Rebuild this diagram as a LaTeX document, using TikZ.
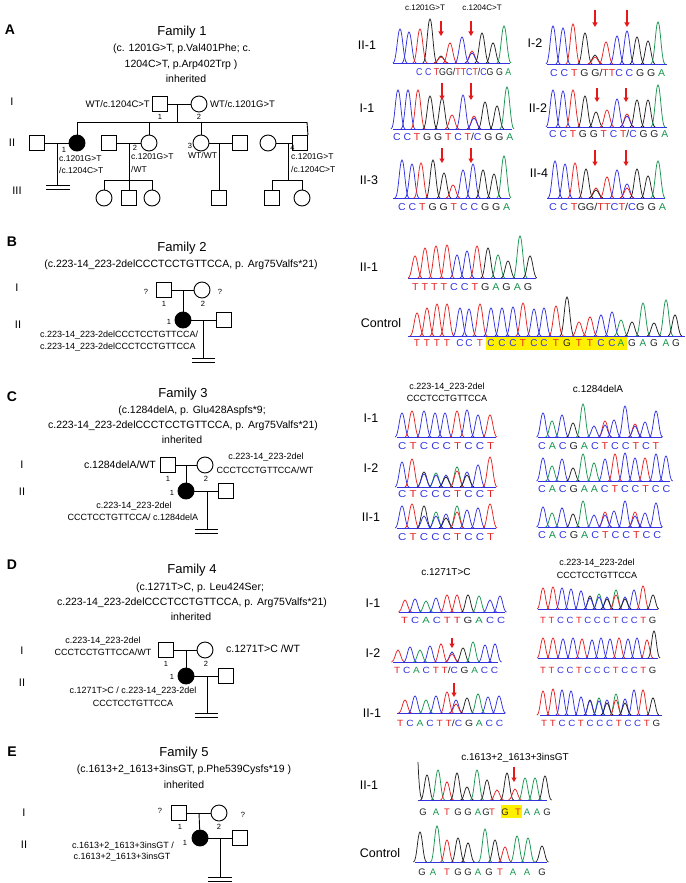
\documentclass[tikz,border=0pt]{standalone}
\usepackage{fontspec}
\setmainfont{Liberation Sans}
\usepackage{graphicx}
\usetikzlibrary{arrows.meta}
\definecolor{cB}{RGB}{50,50,225}
\definecolor{cR}{RGB}{230,35,35}
\definecolor{cG}{RGB}{25,150,80}
\definecolor{cK}{RGB}{35,35,35}
\definecolor{hl}{RGB}{255,240,0}
\definecolor{arr}{RGB}{230,25,25}
\def\sqloop#1{\ifx#1\relax\else\sqchar{#1}\expandafter\sqloop\fi}
\def\sqchar#1{%
 \if C#1{\color{cB}C}\else
 \if T#1{\color{cR}T}\else
 \if A#1{\color{cG}A}\else
 \if G#1{\color{cK}G}\else
 \if .#1\ \else
 \if |#1{\color{cK}/}\else #1\fi\fi\fi\fi\fi\fi}
\newcommand\sq[1]{\sqloop#1\relax}
\newcommand\seqr[6][10]{%
 \pgfmathsetmacro\seqw{#4-#3}%
 \node[inner sep=0pt, anchor=west, font=\fontsize{#1}{#1}\selectfont] (#2) at (#3,#5) {\resizebox{\seqw pt}{\height}{\sq{#6}}};}
\newcommand\pk[5]{\draw[#4, line width=0.75pt] (#3-#2,#1) .. controls (#3-0.5*#2,#1) and (#3-0.35*#2,#1-#5) .. (#3,#1-#5) .. controls (#3+0.35*#2,#1-#5) and (#3+0.5*#2,#1) .. (#3+#2,#1);}
\newcommand\trace[5]{%
 \draw[cB, line width=0.8pt] (#2,#1) -- (#3,#1);
 \foreach \px/\pc/\ph in {#5} {\pk{#1}{#4}{\px}{\pc}{\ph}}}
\newcommand\rar[3]{\draw[rarr] (#1,#2) -- (#1,#3);}
\tikzset{
 ln/.style={line width=0.9pt},
 sqn/.style={draw, line width=0.9pt, rectangle, minimum size=15pt, inner sep=0pt},
 cin/.style={draw, line width=0.9pt, circle, minimum size=16pt, inner sep=0pt},
 afn/.style={cin, fill=black},
 pan/.style={font=\bfseries\fontsize{14}{16}\selectfont, inner sep=0pt},
 ttl/.style={font=\fontsize{13}{15}\selectfont, inner sep=0pt},
 sub/.style={font=\fontsize{10.5}{12}\selectfont, inner sep=0pt},
 gen/.style={font=\fontsize{11}{12}\selectfont, inner sep=0pt},
 lab/.style={font=\fontsize{9}{10}\selectfont, inner sep=0pt},
 lbs/.style={font=\fontsize{8.5}{10}\selectfont, inner sep=0pt},
 num/.style={font=\fontsize{7.5}{9}\selectfont, inner sep=0pt},
 who/.style={font=\fontsize{12.5}{14}\selectfont, inner sep=0pt},
 mut/.style={font=\fontsize{8}{9}\selectfont, inner sep=0pt},
 mutb/.style={font=\fontsize{10}{11}\selectfont, inner sep=0pt},
 sl/.style={font=\fontsize{9.5}{10}\selectfont, inner sep=0pt},
 rarr/.style={draw=arr, line width=1.4pt, -{Triangle[length=4.5pt,width=5pt]}},
}
\begin{document}
\begin{tikzpicture}[x=1pt,y=-1pt]
\useasboundingbox (0,0) rectangle (685,883);
\fill[white] (0,0) rectangle (685,883);

% ================= PANEL A =================
\node[pan] (pA) at (10,30) {A};
\node[ttl] (tA) at (182,32) {Family 1};
\node[sub] (sA1) at (182,49) {(c. 1201G>T, p.Val401Phe; c.};
\node[sub] (sA2) at (181,65) {1204C>T, p.Arp402Trp )};
\node[sub] (sA3) at (186,79) {inherited};
\node[gen] (gAI) at (12,102) {I};
\node[gen] (gAII) at (12,143) {II};
\node[gen] (gAIII) at (17,191) {III};

\node[sqn] (a11) at (160,104) {};
\node[cin] (a12) at (199,104) {};
\draw[ln] (a11) -- (a12);
\coordinate (a1m) at (177,104);
\coordinate (a1s) at (177,122);
\draw[ln] (a1m) -- (a1s);
\node[sl, anchor=east] (la11) at (150,104) {WT/c.1204C>T};
\node[sl, anchor=west] (la12) at (210,104) {WT/c.1201G>T};
\node[num] (na11) at (160,117) {1};
\node[num] (na12) at (199,117) {2};
\coordinate (asl) at (77,122);
\coordinate (asr) at (307,122);
\draw[ln] (asl) -- (asr);

\node[sqn] (a2s) at (37,143) {};
\node[afn] (a21) at (77,143) {};
\draw[ln] (asl) -- (a21);
\draw[ln] (a2s) -- (a21);
\coordinate (a21m) at (57,143);
\coordinate (a21d) at (57,185);
\draw[ln] (a21m) -- (a21d);
\coordinate (a21l) at (46,185); \coordinate (a21r) at (70,185);
\coordinate (a21l2) at (46,189); \coordinate (a21r2) at (70,189);
\draw[ln] (a21l) -- (a21r);
\draw[ln] (a21l2) -- (a21r2);
\node[num] (na21) at (64,150) {1};
\node[lbs, anchor=west] (la21a) at (59,158.5) {c.1201G>T};
\node[lbs, anchor=west] (la21b) at (59,170) {/c.1204C>T};

\node[sqn] (a2b) at (109,143) {};
\node[cin] (a22) at (149,143) {};
\draw[ln] (a2b) -- (a22);
\coordinate (as2) at (149,122);
\draw[ln] (as2) -- (a22);
\coordinate (a22m) at (129,143);
\coordinate (a22d) at (129,180);
\draw[ln] (a22m) -- (a22d);
\coordinate (a3l) at (104,180); \coordinate (a3r) at (152,180);
\draw[ln] (a3l) -- (a3r);
\node[cin] (a31) at (104,198) {};
\node[sqn] (a32) at (129,198) {};
\node[cin] (a33) at (152,198) {};
\draw[ln] (a3l) -- (a31);
\draw[ln] (a22d) -- (a32);
\draw[ln] (a3r) -- (a33);
\node[num] (na22) at (135,148) {2};
\node[lbs, anchor=west] (la22a) at (131,157) {c.1201G>T};
\node[lbs, anchor=west] (la22b) at (131,169) {/WT};

\node[cin] (a23) at (201,143) {};
\coordinate (as3) at (201,122);
\draw[ln] (as3) -- (a23);
\node[sqn] (a2c) at (240,143) {};
\draw[ln] (a23) -- (a2c);
\coordinate (a23m) at (219,143);
\node[sqn] (a34) at (219,198) {};
\draw[ln] (a23m) -- (a34);
\node[num] (na23) at (190,146) {3};
\node[lbs, anchor=west] (la23) at (188,155) {WT/WT};

\node[cin] (a2d) at (268,143) {};
\node[sqn] (a24) at (300,143) {};
\draw[ln] (a2d) -- (a24);
\draw[ln] (asr) -- (a24.north east);
\coordinate (a24m) at (288,143);
\coordinate (a24d) at (288,180);
\draw[ln] (a24m) -- (a24d);
\coordinate (a4l) at (272,180); \coordinate (a4r) at (302,180);
\draw[ln] (a4l) -- (a4r);
\node[sqn] (a35) at (272,198) {};
\node[cin] (a36) at (302,198) {};
\draw[ln] (a4l) -- (a35);
\draw[ln] (a4r) -- (a36);
\node[num] (na24) at (292.5,148) {4};
\node[lbs, anchor=west] (la24a) at (291,157) {c.1201G>T};
\node[lbs, anchor=west] (la24b) at (291,169) {/c.1204C>T};

% chromatograms A
\node[mut] (mA1) at (425,8) {c.1201G>T};
\node[mut] (mA2) at (482,8) {c.1204C>T};
\node[who] (wA1) at (367,45) {II-1};
\node[who] (wA2) at (535,43) {I-2};
\node[who] (wA3) at (367,108) {I-1};
\node[who] (wA4) at (538,108) {II-2};
\node[who] (wA5) at (369,180) {II-3};
\node[who] (wA6) at (539,173) {II-4};

\trace{63}{393}{510}{7}{400/cB/34,409/cB/31,420/cR/34,430/cK/44,441/cK/7,441/cR/6,450/cR/20,462/cB/26,472/cR/12,472/cB/10,482/cK/30,493/cK/20,504/cG/37}
\seqr{qA1}{416}{511}{72}{C.C.TGG|TTCT|CG.G.A}
\rar{441}{21}{36}\rar{471}{21}{36}

\trace{64}{547}{667}{7}{553/cB/38,563/cB/36,573/cR/40,585/cK/31,595/cK/9,595/cR/7,606/cR/22,617/cB/28,627/cB/33,637/cK/27,648/cK/23,658/cG/42}
\seqr{qA2}{550}{665}{73}{C.C.T.G.G|TTC.C.G.G.A}
\rar{595}{10}{27}\rar{627}{10}{27}

\trace{129}{393}{512}{7}{398/cB/39,408/cB/39,418/cR/39,430/cK/33,442/cK/31,452/cR/14,463/cB/34,474/cR/13,474/cB/11,485/cK/27,497/cK/23,507/cG/42}
\seqr{qA3}{393}{513}{137}{C.C.T.G.G.T.C.T|C.G.G.A}
\rar{442}{83}{100}\rar{471}{83}{100}

\trace{127}{547}{667}{7}{553/cB/37,563/cB/36,573/cR/37,585/cK/31,596/cK/15,607/cR/17,617/cB/28,627/cR/13,627/cB/11,637/cK/27,648/cK/27,658/cG/42}
\seqr{qA4}{549}{668}{134}{C.C.T.G.G.T.C.T|C.G.G.A}
\rar{597}{88}{102}\rar{626}{88}{102}

\trace{198}{393}{510}{7}{402/cB/38,412/cB/34,421/cR/35,433/cK/38,444/cK/25,453/cR/13,463/cB/28,473/cB/34,483/cK/28,494/cK/24,504/cG/42}
\seqr{qA5}{398}{510}{207}{C.C.T.G.G.T.C.C.G.G.A}
\rar{442}{148}{163}\rar{471}{148}{163}

\trace{198}{547}{665}{7}{555/cB/37,565/cB/34,575/cR/35,586/cK/29,596/cR/10,596/cK/8,607/cR/21,617/cB/28,627/cB/14,627/cR/10,637/cK/29,648/cK/22,658/cG/37}
\seqr{qA6}{549}{666}{207}{C.C.TGG|TTCT|CG.G.A}
\rar{595}{150}{166}\rar{626}{150}{166}

% ================= PANEL B =================
\node[pan] (pB) at (12,242) {B};
\node[ttl] (tB) at (182,248) {Family 2};
\node[sub] (sB1) at (181,265) {(c.223-14\_223-2delCCCTCCTGTTCCA, p. Arg75Valfs*21)};
\node[gen] (gBI) at (17,288) {I};
\node[gen] (gBII) at (18,325) {II};
\node[sqn] (b11) at (164,290) {};
\node[cin] (b12) at (202,290) {};
\draw[ln] (b11) -- (b12);
\node[num] (qb1) at (146,292) {?};
\node[num] (qb2) at (220,292) {?};
\node[num] (nb11) at (164,304) {1};
\node[num] (nb12) at (203,304) {2};
\coordinate (b1m) at (183,290);
\node[afn] (b21) at (183,320) {};
\draw[ln] (b1m) -- (b21);
\node[sqn] (b2s) at (224,320) {};
\draw[ln] (b21) -- (b2s);
\coordinate (b2m) at (203,320);
\coordinate (b2d) at (203,358);
\draw[ln] (b2m) -- (b2d);
\coordinate (b2l) at (192,358); \coordinate (b2r) at (215,358);
\coordinate (b2l2) at (192,362); \coordinate (b2r2) at (215,362);
\draw[ln] (b2l) -- (b2r);
\draw[ln] (b2l2) -- (b2r2);
\node[num] (nb21) at (169,322) {1};
\node[lab, anchor=west] (lb21a) at (40,335) {c.223-14\_223-2delCCCTCCTGTTCCA/};
\node[lab, anchor=west] (lb21b) at (40,347) {c.223-14\_223-2delCCCTCCTGTTCCA};

\node[who] (wB1) at (369,267) {II-1};
\node[who] (wB2) at (381,323) {Control};
\trace{278}{408}{536}{7}{415/cR/22,425/cR/30,436/cR/32,447/cR/33,457/cB/23,467/cB/27,477/cR/32,488/cK/30,498/cG/23,508/cK/17,520/cG/42,530/cK/22}
\seqr{qB1}{412}{532}{287}{T.T.T.T.C.C.T.G.A.G.A.G}
\trace{336}{408}{685}{7}{417/cR/23,427/cR/28,437/cR/32,447/cR/32,460/cB/28,469/cB/27,480/cR/32,491/cB/28,502/cB/28,513/cB/29,523/cR/33,534/cB/27,544/cB/28,556/cR/30,567/cK/39,579/cR/14,590/cR/19,601/cB/21,612/cB/24,621/cG/16,632/cK/14,643/cG/33,654/cK/13,666/cG/36,675/cK/21}
\fill[hl] (486,337) rectangle (627,350);
\foreach \x/\tk [count=\i] in {417/T,427/T,437/T,447/T,460/C,469/C,480/T,491/C,502/C,513/C,523/T,534/C,544/C,556/T,567/G,579/T,590/T,601/C,612/C,621/A,632/G,643/A,654/G,666/A,676/G}
 {\node[inner sep=0pt, font=\fontsize{10}{10}\selectfont] (qB2\i) at (\x,343) {\sq{\tk}};}

% ================= PANEL C =================
\node[pan] (pC) at (12,397) {C};
\node[ttl] (tC) at (183,394) {Family 3};
\node[sub] (sC1) at (192,411) {(c.1284delA, p. Glu428Aspfs*9;};
\node[sub] (sC2) at (183,426) {c.223-14\_223-2delCCCTCCTGTTCCA, p. Arg75Valfs*21)};
\node[sub] (sC3) at (182,440) {inherited};
\node[gen] (gCI) at (22,465) {I};
\node[gen] (gCII) at (22,492) {II};
\node[sqn] (c11) at (168,465) {};
\node[cin] (c12) at (205,465) {};
\draw[ln] (c11) -- (c12);
\node[sub, anchor=east] (lc11) at (156,465) {c.1284delA/WT};
\node[lab] (lc12a) at (266,457) {c.223-14\_223-2del};
\node[lab] (lc12b) at (265,470) {CCCTCCTGTTCCA/WT};
\node[num] (nc11) at (168,479) {1};
\node[num] (nc12) at (206,479) {2};
\coordinate (c1m) at (186,465);
\node[afn] (c21) at (186,491) {};
\draw[ln] (c1m) -- (c21);
\node[sqn] (c2s) at (226,491) {};
\draw[ln] (c21) -- (c2s);
\coordinate (c2m) at (207,491);
\coordinate (c2d) at (207,529);
\draw[ln] (c2m) -- (c2d);
\coordinate (c2l) at (195,529); \coordinate (c2r) at (218,529);
\coordinate (c2l2) at (195,533); \coordinate (c2r2) at (218,533);
\draw[ln] (c2l) -- (c2r);
\draw[ln] (c2l2) -- (c2r2);
\node[num] (nc21) at (172,493) {1};
\node[lab] (lc21a) at (134,506) {c.223-14\_223-2del};
\node[lab] (lc21b) at (133,517) {CCCTCCTGTTCCA/ c.1284delA};

\node[lab] (mC1) at (447,387) {c.223-14\_223-2del};
\node[lab] (mC2) at (447,398) {CCCTCCTGTTCCA};
\node[mutb] (mC3) at (598,389) {c.1284delA};
\node[who] (wC1) at (371,418) {I-1};
\node[who] (wC2) at (371,468) {I-2};
\node[who] (wC3) at (371,517) {II-1};

\trace{437}{397}{496}{7}{402/cB/24,412/cR/26,424/cB/26,435/cB/24,445/cB/24,457/cR/26,467/cB/27,478/cB/22,490/cR/22}
\seqr{qC1}{398}{494}{446}{C.T.C.C.C.T.C.C.T}
\trace{437}{538}{662}{6.5}{543/cB/24,552/cG/16,562/cB/22,573/cK/14,583/cG/33,594/cB/11,605/cR/16,605/cB/12,614/cB/17,625/cB/31,635/cR/13,635/cB/11,645/cB/15,656/cB/26}
\seqr{qC2}{538}{659}{446}{C.A.C.G.A.C.T.C.C.T.C.T}

\trace{487}{397}{496}{7}{402/cB/25,412/cR/28,424/cK/15,424/cB/13,436/cG/14,436/cB/12,446/cB/12,446/cK/10,457/cG/20,457/cR/16,467/cB/15,467/cK/12,478/cB/22,490/cR/30}
\seqr{qC3}{398}{494}{494}{C.T.C.C.C.T.C.C.T}
\trace{481}{538}{670}{6.5}{543/cB/23,552/cG/15,562/cB/22,573/cK/13,583/cG/27,594/cG/18,605/cB/22,615/cR/27,625/cB/28,635/cB/23,645/cR/23,656/cB/27,666/cB/25}
\seqr{qC4}{538}{670}{489}{C.A.C.G.A.A.C.T.C.C.T.C.C}

\trace{528}{397}{496}{7}{402/cB/22,412/cR/24,424/cK/22,424/cB/12,436/cG/16,436/cB/12,446/cB/14,446/cK/10,457/cG/22,457/cR/16,467/cB/18,478/cB/20,490/cR/24}
\seqr{qC5}{398}{494}{537}{C.T.C.C.C.T.C.C.T}
\trace{527}{538}{662}{6.5}{543/cB/20,552/cG/14,562/cB/19,573/cK/13,583/cG/26,594/cB/12,605/cR/15,605/cB/12,614/cB/16,625/cB/26,635/cR/15,635/cB/11,645/cB/14,656/cB/24}
\seqr{qC6}{538}{661}{535}{C.A.C.G.A.C.T.C.C.T.C.C}

% ================= PANEL D =================
\node[pan] (pD) at (12,565) {D};
\node[ttl] (tD) at (192,570) {Family 4};
\node[sub] (sD1) at (200,588) {(c.1271T>C, p. Leu424Ser;};
\node[sub] (sD2) at (192,603) {c.223-14\_223-2delCCCTCCTGTTCCA, p. Arg75Valfs*21)};
\node[sub] (sD3) at (191,617) {inherited};
\node[gen] (gDI) at (22,651) {I};
\node[gen] (gDII) at (22,683) {II};
\node[sqn] (d11) at (166,650) {};
\node[cin] (d12) at (205,650) {};
\draw[ln] (d11) -- (d12);
\node[lab] (ld11a) at (103,641) {c.223-14\_223-2del};
\node[lab] (ld11b) at (103,652) {CCCTCCTGTTCCA/WT};
\node[sub, anchor=west] (ld12) at (226,649) {c.1271T>C /WT};
\node[num] (nd11) at (166,664) {1};
\node[num] (nd12) at (206,664) {2};
\coordinate (d1m) at (186,650);
\node[afn] (d21) at (186,676) {};
\draw[ln] (d1m) -- (d21);
\node[sqn] (d2s) at (226,676) {};
\draw[ln] (d21) -- (d2s);
\coordinate (d2m) at (207,676);
\coordinate (d2d) at (207,713);
\draw[ln] (d2m) -- (d2d);
\coordinate (d2l) at (195,713); \coordinate (d2r) at (218,713);
\coordinate (d2l2) at (195,717); \coordinate (d2r2) at (218,717);
\draw[ln] (d2l) -- (d2r);
\draw[ln] (d2l2) -- (d2r2);
\node[num] (nd21) at (172,677) {1};
\node[lab] (ld21a) at (133,691) {c.1271T>C / c.223-14\_223-2del};
\node[lab] (ld21b) at (133,703) {CCCTCCTGTTCCA};

\node[mutb] (mD1) at (446,572) {c.1271T>C};
\node[lab] (mD2) at (597,563) {c.223-14\_223-2del};
\node[lab] (mD3) at (597,575) {CCCTCCTGTTCCA};
\node[who] (wD1) at (373,603) {I-1};
\node[who] (wD2) at (373,653) {I-2};
\node[who] (wD3) at (372,713) {II-1};

\trace{612}{399}{505}{6.5}{405/cR/12,415/cB/13,426/cG/11,436/cB/14,447/cR/17,457/cR/17,468/cK/17,479/cG/16,490/cB/12,500/cB/16}
\seqr[9]{qD1}{401}{505}{620}{T.C.A.C.T.T.G.A.C.C}
\trace{609}{538}{658}{6}{543/cR/21,553/cR/22,562/cB/21,571/cB/20,581/cB/18,590/cK/13,590/cB/11,599/cG/15,599/cB/12,607/cB/12,607/cK/10,616/cG/19,616/cR/14,625/cB/12,625/cK/10,634/cB/19,643/cR/23,653/cK/14}
\seqr[9]{qD2}{540}{656}{620}{T.T.C.C.T.C.C.C.T.C.C.T.G}

\trace{662}{393}{498}{6.5}{398/cR/12,410/cB/15,420/cG/12,430/cB/16,441/cR/18,452/cB/10,452/cR/8,463/cK/14,473/cG/20,485/cB/17,495/cB/18}
\seqr[9]{qD3}{394}{498}{670}{T.C.A.C.T.T|C.G.A.C.C}
\rar{452}{638}{648}
\trace{658}{538}{658}{6}{543/cR/20,553/cR/20,563/cB/19,573/cB/20,582/cR/19,592/cB/18,601/cB/20,610/cB/19,619/cR/20,628/cB/19,637/cB/20,647/cR/18,654/cK/27}
\seqr[9]{qD4}{540}{656}{670}{T.T.C.C.T.C.C.C.T.C.C.T.G}

\trace{713}{397}{505}{6.5}{405/cR/13,415/cB/17,426/cG/13,436/cB/17,447/cR/21,456/cB/13,456/cR/9,467/cK/15,478/cG/19,488/cB/16,499/cB/17}
\seqr[9]{qD5}{397}{503}{723}{T.C.A.C.T.T|C.G.A.C.C}
\rar{454}{683}{697}
\trace{715}{540}{662}{6}{543/cR/24,553/cR/26,562/cB/25,571/cB/24,581/cB/18,590/cK/15,590/cB/14,599/cG/17,599/cB/14,607/cB/15,607/cK/12,616/cG/21,616/cR/15,625/cB/16,625/cK/12,634/cB/25,643/cR/25,653/cK/17}
\seqr[9]{qD6}{541}{660}{723}{T.T.C.C.T.C.C.C.T.C.C.T.G}

% ================= PANEL E =================
\node[pan] (pE) at (12,752) {E};
\node[ttl] (tE) at (184,753) {Family 5};
\node[sub] (sE1) at (184,770) {(c.1613+2\_1613+3insGT, p.Phe539Cysfs*19 )};
\node[sub] (sE2) at (184,785) {inherited};
\node[gen] (gEI) at (24,813) {I};
\node[gen] (gEII) at (24,845) {II};
\node[sqn] (e11) at (179,813) {};
\node[cin] (e12) at (219,813) {};
\draw[ln] (e11) -- (e12);
\node[num] (qe1) at (160,811) {?};
\node[num] (qe2) at (243,815) {?};
\node[num] (ne11) at (180,827) {1};
\node[num] (ne12) at (219,827) {2};
\coordinate (e1m) at (199,813);
\node[afn] (e21) at (200,838) {};
\draw[ln] (e1m) -- (e21);
\node[sqn] (e2s) at (240,838) {};
\draw[ln] (e21) -- (e2s);
\coordinate (e2m) at (220,838);
\coordinate (e2d) at (220,877);
\draw[ln] (e2m) -- (e2d);
\coordinate (e2l) at (208,877); \coordinate (e2r) at (232,877);
\coordinate (e2l2) at (208,881); \coordinate (e2r2) at (232,881);
\draw[ln] (e2l) -- (e2r);
\draw[ln] (e2l2) -- (e2r2);
\node[num] (ne21) at (185,843) {1};
\node[lab] (le21a) at (123,846) {c.1613+2\_1613+3insGT /};
\node[lab] (le21b) at (122,857) {c.1613+2\_1613+3insGT};

\node[mutb] (mE1) at (515,758) {c.1613+2\_1613+3insGT};
\node[who] (wE1) at (369,785) {II-1};
\node[who] (wE2) at (380,853) {Control};
\trace{800}{418}{547}{6.5}{427/cK/25,438/cG/30,447/cR/18,457/cK/27,467/cK/13,477/cG/30,487/cK/20,497/cR/10,507/cK/27,515/cR/11,525/cG/22,535/cG/22,545/cK/24}
\draw[cK, line width=0.75pt] (418,762) .. controls (419,785) and (420,797) .. (422,799);
\rar{514}{767}{782}
\fill[hl] (501,805) rectangle (522,818);
\foreach \x/\tk [count=\i] in {423/G,436/A,447/T,458/G,468/G,478/A,486/G,492/T,505/G,518/T,527/A,537/A,547/G}
 {\node[inner sep=0pt, font=\fontsize{9.5}{10}\selectfont] (qE1\i) at (\x,812) {\sq{\tk}};}
\trace{862}{415}{547}{6.5}{420/cK/30,437/cG/36,447/cR/22,458/cK/24,468/cK/19,485/cG/33,495/cK/22,505/cR/15,517/cG/26,528/cG/24,542/cK/16}
\foreach \x/\tk [count=\i] in {422/G,433/A,447/T,458/G,468/G,478/A,489/G,500/T,513/A,527/A,542/G}
 {\node[inner sep=0pt, font=\fontsize{9.5}{10}\selectfont] (qE2\i) at (\x,872) {\sq{\tk}};}
\end{tikzpicture}
\end{document}
